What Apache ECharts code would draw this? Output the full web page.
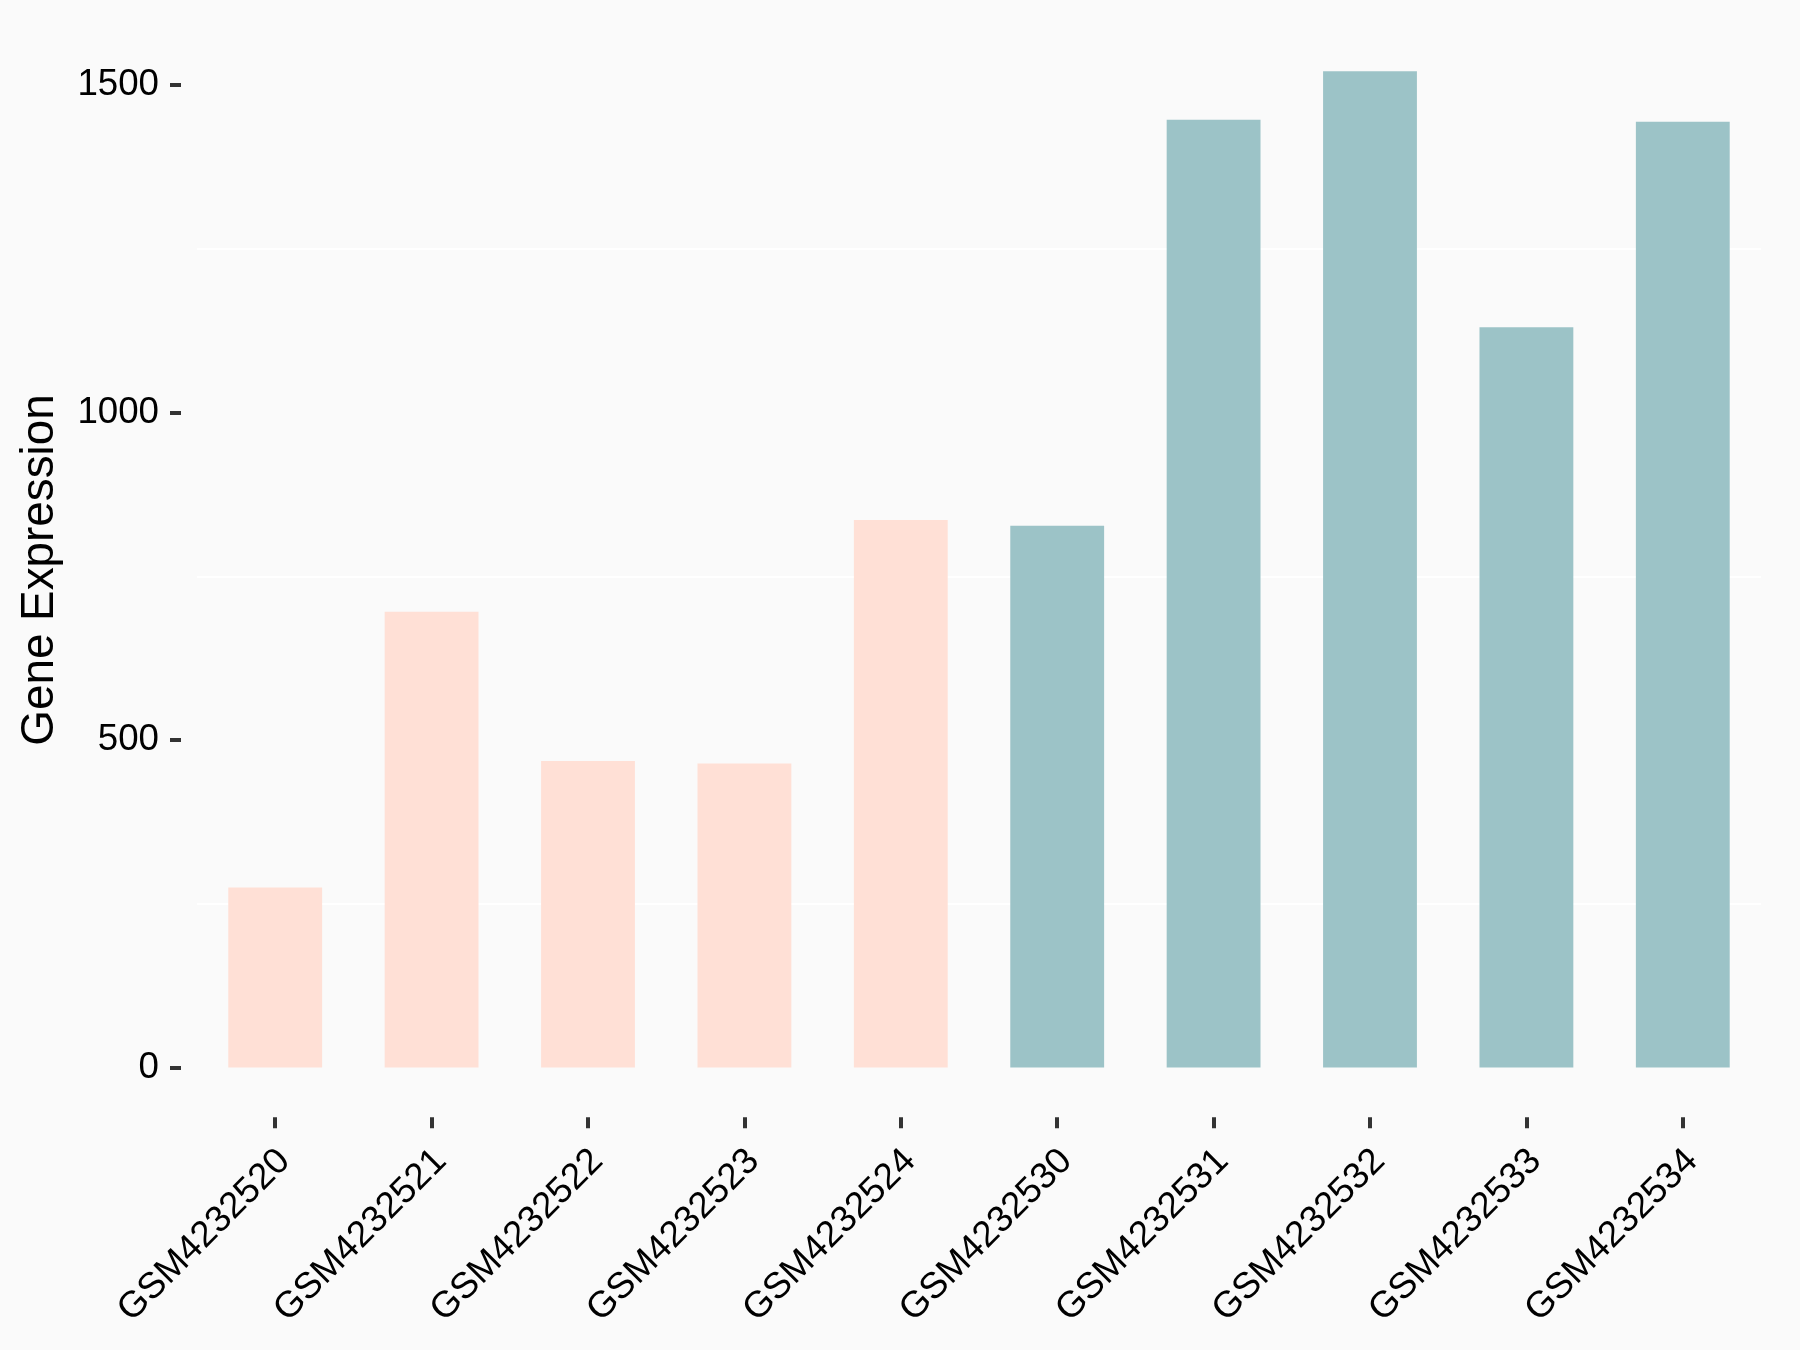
<!DOCTYPE html>
<html>
<head>
<meta charset="utf-8">
<script src="https://cdn.jsdelivr.net/npm/echarts@6/dist/echarts.min.js"></script>
<style>
html,body{margin:0;padding:0;background:#FAFAFA;}
#c{width:1800px;height:1350px;}
</style>
</head>
<body>
<div id="c"></div>
<script>
const categories = ['GSM4232520','GSM4232521','GSM4232522','GSM4232523','GSM4232524',
                    'GSM4232530','GSM4232531','GSM4232532','GSM4232533','GSM4232534'];
const values = [275, 696, 468, 464, 836, 827, 1447, 1521, 1130, 1444];
const groups = ['A','A','A','A','A','B','B','B','B','B'];
const groupColors = {A: '#FFE0D6', B: '#9CC3C7'};
const yTicks = [0, 500, 1000, 1500];
const yMinorGrid = [250, 750, 1250];
const yRange = [-76, 1500];
const yTitle = 'Gene Expression';

const FONT = "'Liberation Sans', Arial, sans-serif";
const chart = echarts.init(document.getElementById('c'), null, {renderer: 'canvas'});
chart.setOption({
  backgroundColor: '#FAFAFA',
  animation: false,
  grid: {left: 197, right: 39, top: 85, bottom: 232.7, containLabel: false},
  xAxis: {
    type: 'category',
    data: categories,
    boundaryGap: true,
    axisLine: {show: false, onZero: false},
    axisTick: {show: true, alignWithLabel: true, length: 11, lineStyle: {color: '#333333', width: 4}},
    axisLabel: {
      rotate: 45, interval: 0, margin: 29, color: '#000000',
      fontFamily: FONT, fontSize: 36.7,
      align: 'right', verticalAlign: 'top', lineHeight: 26
    },
    splitLine: {show: false}
  },
  yAxis: {
    type: 'value',
    min: yRange[0], max: yRange[1],
    offset: 16,
    axisLine: {show: false},
    axisTick: {show: true, length: 11, customValues: yTicks, lineStyle: {color: '#333333', width: 4}},
    axisLabel: {margin: 22, color: '#000000', fontFamily: FONT, fontSize: 36.7,
                customValues: yTicks, formatter: v => String(v)},
    splitLine: {show: false}
  },
  graphic: [{
    type: 'text',
    x: 40, y: 570,
    rotation: Math.PI / 2,
    style: {
      text: yTitle, fill: '#000000', font: "45.8px 'Liberation Sans', Arial, sans-serif",
      textAlign: 'center', textVerticalAlign: 'middle'
    }
  }],
  series: [{
    type: 'bar',
    clip: false,
    z: 2,
    barWidth: '60%',
    data: values.map((v, i) => ({value: v, itemStyle: {color: groupColors[groups[i]]}})),
    markLine: {
      z: 1,
      silent: true,
      symbol: ['none', 'none'],
      label: {show: false},
      lineStyle: {color: '#FFFFFF', width: 2, type: 'solid'},
      emphasis: {disabled: true},
      data: yMinorGrid.map(v => ({yAxis: v}))
    }
  }]
});
</script>
</body>
</html>
